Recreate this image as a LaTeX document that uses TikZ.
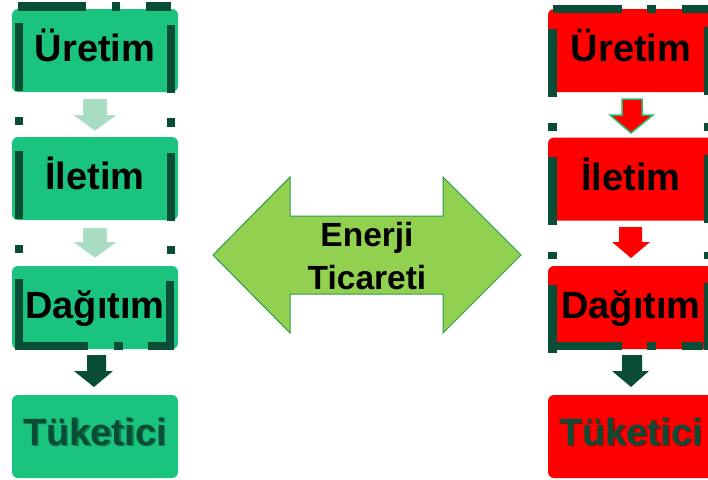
\documentclass[tikz,border=0pt]{standalone}
\usepackage{fontspec}
\setmainfont{Liberation Sans}
\definecolor{boxgreen}{HTML}{1BC47E}
\definecolor{darkgreen}{HTML}{0A4D37}
\definecolor{lightarrow}{HTML}{A9DDC2}
\definecolor{tradegreen}{HTML}{92D050}
\definecolor{tradeborder}{HTML}{2A9A4E}
\definecolor{outlinegreen}{HTML}{2DB870}
\tikzset{
  stagebox/.style={rounded corners=6pt, minimum width=166pt, minimum height=83pt, inner sep=0pt, text height=22pt, text depth=0pt, font=\fontsize{38}{40}\selectfont\bfseries},
  greenbox/.style={stagebox, fill=boxgreen},
  redbox/.style={stagebox, fill=red},
  bar/.style={fill=darkgreen, draw=none},
  shadowtext/.style={font=\fontsize{38}{40}\selectfont\bfseries, text=black, opacity=0.35, inner sep=0pt, anchor=base},
  finaltext/.style={font=\fontsize{38}{40}\selectfont\bfseries, text=darkgreen, inner sep=0pt, anchor=base},
}
\begin{document}
\begin{tikzpicture}[x=1pt,y=-1pt]
\useasboundingbox (0,0) rectangle (708,479);
\clip (0,0) rectangle (708,479);
% ---------- left column ----------
\node[greenbox] (lu) at (95,50.5) {Üretim};
\node[greenbox] (li) at (95,178.5) {İletim};
\node[greenbox] (ld) at (95,307.5) {Dağıtım};
\node[greenbox] (lt) at (95,436.5) {};
\node[shadowtext] (lts) at ([xshift=1.5pt,yshift=-10pt]lt.center) {Tüketici};
\node[finaltext] (ltt) at ([yshift=-8.5pt]lt.center) {Tüketici};
% dark bars left
\fill[bar] (18,2) rectangle (86,11);
\fill[bar] (112,2) rectangle (120,11);
\fill[bar] (146,2) rectangle (171,11);
\fill[bar] (15,23) rectangle (23,91);
\fill[bar] (167,25) rectangle (175,93);
\fill[bar] (15,117) rectangle (23,125);
\fill[bar] (167,118) rectangle (175,127);
\fill[bar] (15,151) rectangle (23,219);
\fill[bar] (167,153) rectangle (175,221);
\fill[bar] (15,245) rectangle (23,253);
\fill[bar] (167,246) rectangle (175,254);
\fill[bar] (15,279) rectangle (23,350);
\fill[bar] (166,281) rectangle (174,350);
\fill[bar] (20,342) rectangle (88,350);
\fill[bar] (114,342) rectangle (123,350);
\fill[bar] (148,342) rectangle (168,350);
% arrows left
\fill[lightarrow, draw=white!90!lightarrow] (83,99) -- (107,99) -- (107,115) -- (117,115) -- (95,131) -- (73,115) -- (83,115) -- cycle;
\fill[lightarrow, draw=white!90!lightarrow] (83,228) -- (107,228) -- (107,242) -- (117,242) -- (95,258) -- (73,242) -- (83,242) -- cycle;
\fill[darkgreen] (87,355) -- (106,355) -- (106,371) -- (113,371) -- (94,387) -- (74,371) -- (87,371) -- cycle;
% ---------- right column ----------
\node[redbox] (ru) at (631,50.5) {Üretim};
\node[redbox] (ri) at (631,179) {İletim};
\node[redbox] (rd) at (631,307.5) {Dağıtım};
\node[redbox] (rt) at (631,436.5) {};
\node[shadowtext] (rts) at ([xshift=1.5pt,yshift=-10pt]rt.center) {Tüketici};
\node[finaltext] (rtt) at ([yshift=-8.5pt]rt.center) {Tüketici};
\fill[bar] (553,5) rectangle (622,13);
\fill[bar] (647,5) rectangle (656,13);
\fill[bar] (682,5) rectangle (710,13);
\fill[bar] (548,29) rectangle (557,97);
\fill[bar] (704,27) rectangle (712,95);
\fill[bar] (548,123) rectangle (557,131);
\fill[bar] (704,123) rectangle (712,131);
\fill[bar] (548,157) rectangle (557,225);
\fill[bar] (704,155) rectangle (712,223);
\fill[bar] (548,252) rectangle (557,259);
\fill[bar] (704,252) rectangle (712,259);
\fill[bar] (548,285) rectangle (557,353);
\fill[bar] (704,283) rectangle (712,350);
\fill[bar] (555,342) rectangle (622,350);
\fill[bar] (647,342) rectangle (656,350);
\fill[bar] (682,342) rectangle (703,350);
% arrows right
\filldraw[fill=red, draw=outlinegreen, line width=1.5pt] (622,99) -- (642,99) -- (642,115) -- (653,115) -- (631,133) -- (610,115) -- (622,115) -- cycle;
\fill[red] (619,227) -- (642,227) -- (642,242) -- (650,242) -- (631,258) -- (612,242) -- (619,242) -- cycle;
\fill[darkgreen] (622,355) -- (642,355) -- (642,371) -- (649,371) -- (631,387) -- (612,371) -- (622,371) -- cycle;
% ---------- center double arrow ----------
\filldraw[fill=tradegreen, draw=tradeborder, line width=1pt] (213,255) -- (290,177) -- (290,216) -- (443,216) -- (443,177) -- (521,255) -- (443,333) -- (443,294) -- (290,294) -- (290,333) -- cycle;
\node[font=\fontsize{33.5}{43}\selectfont\bfseries, align=center, inner sep=0pt] (trade) at (367,256.5) {Enerji\\Ticareti};
\end{tikzpicture}
\end{document}
